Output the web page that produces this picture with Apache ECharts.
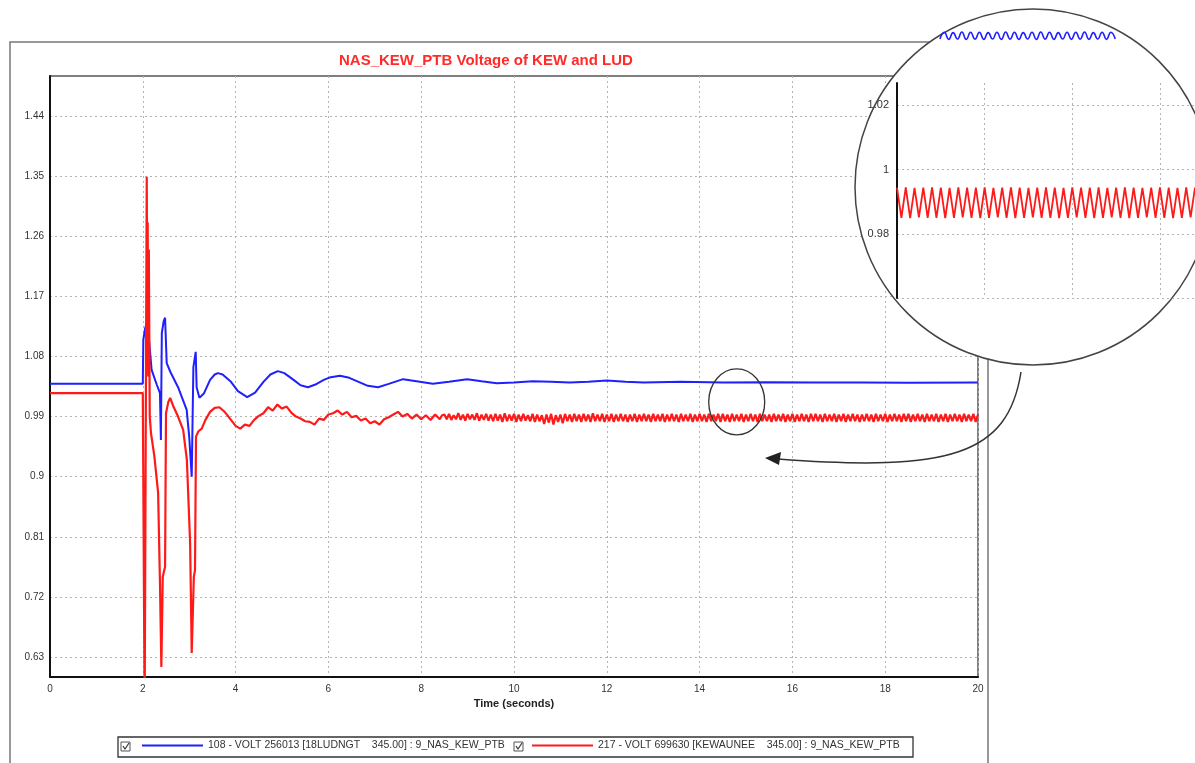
<!DOCTYPE html>
<html>
<head>
<meta charset="utf-8">
<title>NAS_KEW_PTB Voltage of KEW and LUD</title>
<script src="https://cdn.jsdelivr.net/npm/echarts@6/dist/echarts.min.js"></script>
<style>
html, body { margin: 0; padding: 0; background: #fff; }
#chart { width: 1195px; height: 763px; }
</style>
</head>
<body>
<div id="chart"></div>
<script>
// tick labels of the voltage axis (pu)
var yTicks = [0.63, 0.72, 0.81, 0.9, 0.99, 1.08, 1.17, 1.26, 1.35, 1.44];

var nameLud = '108 - VOLT 256013 [18LUDNGT    345.00] : 9_NAS_KEW_PTB';
var nameKew = '217 - VOLT 699630 [KEWAUNEE    345.00] : 9_NAS_KEW_PTB';

// blue curve, bus 256013 (LUD)
var ludTime = [0, 2.0, 2.011, 2.05, 2.084, 2.134, 2.19, 2.3, 2.37, 2.39, 2.41, 2.45, 2.48, 2.515, 2.6, 2.76, 2.946, 3.0, 3.054, 3.09, 3.14, 3.16,
  3.22, 3.32, 3.45, 3.55, 3.62, 3.72, 3.9, 4.05, 4.25, 4.42, 4.6, 4.75, 4.91, 5.05, 5.25, 5.4, 5.56, 5.72, 5.9, 6.05, 6.25, 6.45, 6.65, 6.85,
  7.07, 7.3, 7.61, 7.9, 8.25, 8.6, 8.99, 9.3, 9.63, 10.0, 10.4, 10.8, 11.2, 11.6, 12.0, 12.4, 12.8, 13.6, 14.5, 15.5, 16.5, 17.5, 18.5, 20.0];
var ludVolt = [1.039, 1.039, 1.105, 1.122, 1.13, 1.105, 1.06, 1.038, 1.025, 0.955, 1.115, 1.133, 1.138, 1.07, 1.056, 1.034, 1.0, 0.96, 0.9, 1.064, 1.087, 1.034,
  1.018, 1.025, 1.045, 1.053, 1.055, 1.053, 1.042, 1.028, 1.019, 1.026, 1.042, 1.053, 1.058, 1.055, 1.045, 1.037, 1.034, 1.038, 1.045, 1.049, 1.051, 1.048, 1.042, 1.036,
  1.034, 1.039, 1.046, 1.043, 1.039, 1.042, 1.046, 1.043, 1.040, 1.041, 1.043, 1.042, 1.041, 1.042, 1.044, 1.042, 1.041, 1.042, 1.041, 1.0415, 1.041, 1.041, 1.0405, 1.041];

// red curve, bus 699630 (KEW), fault transient and early swing
var kewTime = [0, 2.0, 2.035, 2.04, 2.07, 2.085, 2.095, 2.105, 2.118, 2.13, 2.15, 2.177, 2.25, 2.33, 2.37, 2.40, 2.43, 2.48, 2.50, 2.55, 2.59, 2.66, 2.76, 2.87, 2.95,
  3.02, 3.054, 3.10, 3.125, 3.147, 3.20, 3.27, 3.35, 3.45, 3.55, 3.65, 3.75,
  3.8, 3.9, 4.0, 4.1, 4.2, 4.3, 4.4, 4.5, 4.6, 4.7, 4.8, 4.9, 5.0, 5.1, 5.2, 5.3, 5.4, 5.5, 5.6, 5.7, 5.8, 5.9, 6.0, 6.1, 6.2, 6.3, 6.4, 6.5,
  6.6, 6.7, 6.8, 6.9, 7.0, 7.1, 7.2, 7.3, 7.4, 7.5, 7.6, 7.7, 7.8, 7.9, 8.0, 8.1, 8.2, 8.3, 8.4, 8.45];
var kewVolt = [1.025, 1.025, 1.025, 0.55, 0.55, 1.349, 1.15, 1.281, 1.05, 1.24, 0.99, 0.965, 0.93, 0.876, 0.741, 0.615, 0.75, 0.765, 0.995, 1.012, 1.018, 1.005, 0.99, 0.97, 0.925,
  0.80, 0.636, 0.75, 0.76, 0.96, 0.968, 0.972, 0.985, 0.997, 1.003, 1.004, 0.998,
  0.994, 0.985, 0.976, 0.972, 0.978, 0.976, 0.985, 0.991, 0.995, 1.004, 0.999, 1.008, 1.002, 1.005, 0.996, 0.990, 0.987, 0.983, 0.982, 0.978, 0.987, 0.985, 0.993, 0.995, 0.999, 0.993, 0.997, 0.989,
  0.991, 0.984, 0.987, 0.980, 0.983, 0.978, 0.986, 0.989, 0.993, 0.997, 0.990, 0.994, 0.987, 0.993, 0.986, 0.992, 0.985, 0.993, 0.986, 0.992];

// red curve after 8.5 s: fast oscillation sampled every 0.05 s
var kewTailStart = 8.5;
var kewTailStep = 0.05;
var kewTail = [
  0.993,0.986,0.994,0.985,0.992,0.986,0.995,0.985,0.993,0.984,0.994,0.986,0.993,0.985,0.995,0.984,0.993,0.985,0.994,0.984,
  0.993,0.983,0.994,0.984,0.993,0.982,0.995,0.983,0.993,0.984,0.994,0.982,0.993,0.983,0.994,0.984,0.992,0.983,0.994,0.982,
  0.993,0.983,0.992,0.979,0.993,0.981,0.994,0.978,0.992,0.982,0.993,0.980,0.994,0.983,0.993,0.982,0.994,0.983,0.993,0.982,
  0.994,0.983,0.993,0.982,0.995,0.983,0.993,0.983,0.994,0.982,0.993,0.983,0.994,0.982,0.993,0.983,0.994,0.983,0.993,0.982,
  0.993,0.983,0.994,0.982,0.993,0.983,0.994,0.983,0.993,0.982,0.994,0.983,0.993,0.983,0.994,0.982,0.993,0.983,0.994,0.983,
  0.993,0.982,0.994,0.983,0.993,0.983,0.994,0.982,0.993,0.983,0.994,0.983,0.993,0.982,0.994,0.983,0.993,0.983,0.994,0.982,
  0.994,0.983,0.993,0.982,0.994,0.983,0.993,0.983,0.994,0.982,0.993,0.983,0.994,0.983,0.993,0.982,0.994,0.983,0.993,0.983,
  0.993,0.982,0.994,0.983,0.993,0.983,0.994,0.982,0.993,0.983,0.994,0.982,0.993,0.983,0.994,0.983,0.993,0.982,0.994,0.983,
  0.994,0.983,0.993,0.982,0.994,0.983,0.993,0.983,0.994,0.982,0.993,0.983,0.994,0.982,0.993,0.983,0.994,0.983,0.993,0.982,
  0.993,0.983,0.994,0.983,0.993,0.982,0.994,0.983,0.993,0.983,0.994,0.982,0.993,0.983,0.994,0.983,0.993,0.982,0.994,0.983,
  0.994,0.982,0.993,0.983,0.994,0.983,0.993,0.982,0.994,0.983,0.993,0.983,0.994,0.982,0.993,0.983,0.994,0.982,0.993,0.983,
  0.994,0.983,0.993,0.982,0.994,0.983,0.993,0.983,0.994,0.982,0.993
];

// magnified view (inset), sampled every 0.05 units of the inset x axis
var zoomStep = 0.05;
var zoomTicks = [0.96, 0.98, 1, 1.02];
var zoomLudStart = 0.49;
var zoomLud = [
  1.0407,1.0428,1.0406,1.0427,1.0407,1.0429,1.0406,1.0428,1.0407,1.0428,
  1.0406,1.0427,1.0407,1.0428,1.0406,1.0429,1.0407,1.0428,1.0406,1.0427,
  1.0407,1.0428,1.0406,1.0429,1.0407,1.0428,1.0406,1.0427,1.0407,1.0428,
  1.0406,1.0428,1.0407,1.0429,1.0406,1.0427,1.0407,1.0428,1.0406,1.0428,
  1.0407
];
var zoomKewStart = 0;
var zoomKew = [
  0.9944,0.9850,0.9945,0.9849,0.9943,0.9851,0.9944,0.9850,0.9945,0.9850,
  0.9944,0.9849,0.9943,0.9850,0.9945,0.9851,0.9944,0.9850,0.9944,0.9849,
  0.9945,0.9850,0.9943,0.9851,0.9944,0.9850,0.9945,0.9849,0.9944,0.9850,
  0.9943,0.9851,0.9944,0.9850,0.9945,0.9850,0.9944,0.9849,0.9943,0.9850,
  0.9945,0.9851,0.9944,0.9850,0.9944,0.9849,0.9945,0.9850,0.9943,0.9851,
  0.9944,0.9850,0.9945,0.9849,0.9944,0.9850,0.9943,0.9851,0.9944,0.9850,
  0.9945,0.9850,0.9944,0.9849,0.9943,0.9850,0.9945,0.9851,0.9944,0.9850,
  0.9944,0.9849,0.9945
];

// spot that the magnifier looks at (time, pu)
var markCenter = [14.8, 1.012];

function pairs(xs, ys) {
  return xs.map(function (x, i) { return [x, ys[i]]; });
}
function sampled(start, step, ys) {
  return ys.map(function (y, i) { return [+(start + i * step).toFixed(3), y]; });
}

var ludData = pairs(ludTime, ludVolt);
var kewData = pairs(kewTime, kewVolt).concat(sampled(kewTailStart, kewTailStep, kewTail));

var FONT = 'Liberation Sans, Arial, sans-serif';
var dotted = { color: '#b4b4b4', width: 1, type: [2, 3] };

var chart = echarts.init(document.getElementById('chart'));

var option = {
  animation: false,
  backgroundColor: '#fff',
  title: {
    text: 'NAS_KEW_PTB Voltage of KEW and LUD',
    left: 339,
    top: 53,
    padding: 0,
    textStyle: { color: '#ff2a2a', fontSize: 15, fontWeight: 'bold', fontFamily: FONT }
  },
  legend: [
    {
      data: [nameLud], left: 142, top: 740, padding: 0,
      icon: 'rect', itemWidth: 61, itemHeight: 2, selectedMode: false,
      textStyle: { color: '#333', fontSize: 10.5, fontFamily: FONT }
    },
    {
      data: [nameKew], left: 532, top: 740, padding: 0,
      icon: 'rect', itemWidth: 61, itemHeight: 2, selectedMode: false,
      textStyle: { color: '#333', fontSize: 10.5, fontFamily: FONT }
    }
  ],
  grid: [
    {
      left: 50, top: 76, right: 217, bottom: 86,
      show: true, borderColor: '#555', borderWidth: 1.5,
      outerBoundsMode: 'none'
    },
    {
      left: 897, top: 83, width: 298, height: 215,
      show: false, outerBoundsMode: 'none'
    }
  ],
  xAxis: [
    {
      type: 'value', gridIndex: 0, min: 0, max: 20, interval: 2,
      name: 'Time (seconds)', nameLocation: 'middle', nameGap: 20,
      nameTextStyle: { color: '#222', fontSize: 11, fontWeight: 'bold', fontFamily: FONT },
      axisLine: { lineStyle: { color: '#111', width: 2 } },
      axisTick: { show: false },
      axisLabel: { color: '#333', fontSize: 10, margin: 7, fontFamily: FONT },
      splitLine: { show: true, lineStyle: dotted }
    },
    {
      type: 'value', gridIndex: 1, min: 0, max: 3.4, interval: 1, z: 20,
      axisLine: { show: false }, axisTick: { show: false }, axisLabel: { show: false },
      splitLine: { show: true, showMaxLine: false, lineStyle: dotted }
    }
  ],
  yAxis: [
    {
      type: 'value', gridIndex: 0, min: 0.6, max: 1.5,
      axisLine: { show: true, lineStyle: { color: '#111', width: 2 } },
      axisTick: { show: false, customValues: yTicks },
      axisLabel: { color: '#333', fontSize: 10, margin: 6, fontFamily: FONT, customValues: yTicks },
      splitLine: { show: true, lineStyle: dotted }
    },
    {
      type: 'value', gridIndex: 1, min: zoomTicks[0], max: 1.027, interval: 0.02, z: 20,
      axisLine: { show: true, lineStyle: { color: '#111', width: 2 } },
      axisTick: { show: false },
      axisLabel: { color: '#333', fontSize: 11, margin: 8, fontFamily: FONT, showMinLabel: false, showMaxLabel: false },
      splitLine: { show: true, showMaxLine: false, lineStyle: dotted }
    }
  ],
  series: [
    {
      name: nameLud, type: 'line', xAxisIndex: 0, yAxisIndex: 0,
      data: ludData, showSymbol: false, color: '#1f1fff',
      lineStyle: { width: 2, color: '#1f1fff' }
    },
    {
      name: nameKew, type: 'line', xAxisIndex: 0, yAxisIndex: 0,
      data: kewData, showSymbol: false, color: '#ff1a1a',
      lineStyle: { width: 2.2, color: '#ff1a1a' }
    },
    {
      name: 'zoomLud', type: 'line', xAxisIndex: 1, yAxisIndex: 1, z: 21, clip: false,
      data: sampled(zoomLudStart, zoomStep, zoomLud), showSymbol: false, smooth: true,
      lineStyle: { width: 1.6, color: '#1f1fff' }
    },
    {
      name: 'zoomKew', type: 'line', xAxisIndex: 1, yAxisIndex: 1, z: 21, clip: false,
      data: sampled(zoomKewStart, zoomStep, zoomKew), showSymbol: false,
      lineStyle: { width: 1.8, color: '#ff1a1a' }
    }
  ]
};

chart.setOption(option);

// annotations: frame, legend box, magnifier and the arrow
var mark = chart.convertToPixel({ gridIndex: 0 }, markCenter);

function checkbox(x, y) {
  return [
    { type: 'rect', z: 6, shape: { x: x, y: y, width: 9, height: 9 }, style: { fill: '#fff', stroke: '#555', lineWidth: 1 } },
    { type: 'polyline', z: 6, shape: { points: [[x + 2, y + 4], [x + 4, y + 7], [x + 8, y + 1]] }, style: { fill: 'none', stroke: '#333', lineWidth: 1.2 } }
  ];
}

var elements = [
  { type: 'rect', z: 1, silent: true, shape: { x: 10, y: 42, width: 978, height: 760 }, style: { fill: 'none', stroke: '#777', lineWidth: 1.5 } },
  { type: 'rect', z: 5, silent: true, shape: { x: 118, y: 737, width: 795, height: 20 }, style: { fill: 'none', stroke: '#333', lineWidth: 1.3 } },
  { type: 'circle', z: 10, silent: true, shape: { cx: 1033, cy: 187, r: 178 }, style: { fill: '#fff', stroke: '#444', lineWidth: 1.5 } },
  { type: 'ellipse', z: 30, silent: true, shape: { cx: mark[0], cy: mark[1], rx: 28, ry: 33 }, style: { fill: 'none', stroke: '#333', lineWidth: 1.3 } },
  { type: 'bezierCurve', z: 30, silent: true, shape: { x1: 1021, y1: 372, cpx1: 1008, cpy1: 455, cpx2: 950, cpy2: 472, x2: 778, y2: 459 }, style: { fill: 'none', stroke: '#333', lineWidth: 1.5 } },
  { type: 'polygon', z: 30, silent: true, shape: { points: [[765, 458], [781, 452], [779, 465]] }, style: { fill: '#222' } }
].concat(checkbox(121, 742), checkbox(514, 742));

chart.setOption({ graphic: { elements: elements } });
</script>
</body>
</html>
